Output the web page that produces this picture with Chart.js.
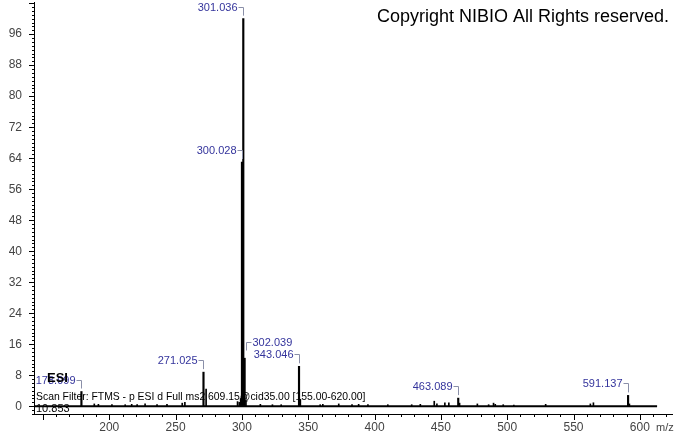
<!DOCTYPE html>
<html>
<head>
<meta charset="utf-8">
<script src="https://cdn.jsdelivr.net/npm/chart.js@4.4.0/dist/chart.umd.min.js"></script>
<style>
  html, body { margin: 0; padding: 0; background: #fff; }
  #wrap { width: 674px; height: 434px; }
</style>
</head>
<body>
<div id="wrap"><canvas id="spectrum" width="674" height="434"></canvas></div>
<script>
// labelled peaks (m/z, relative abundance)
const peakMz = [178.999, 271.025, 300.028, 301.036, 302.039, 343.046, 463.089, 591.137];
const peakInt = [3.8, 8.8, 63.0, 100, 12.4, 10.3, 2.1, 2.8];

// small unlabelled peaks
const minorMz = [188.7, 191.8, 202.0, 212.0, 216.9, 221.0, 227.0, 236.0, 243.5, 255.0, 257.0,
    273.0, 296.7, 298.0, 299.04, 303.04, 313.9, 323.0, 329.6, 344.05, 359.0, 361.0, 373.0,
    383.0, 388.0, 395.0, 410.0, 428.0, 434.5, 445.0, 447.0, 453.0, 456.0, 464.09, 477.5,
    486.0, 489.7, 491.0, 497.0, 505.0, 529.0, 562.7, 565.0, 592.14];
const minorInt = [0.6, 0.5, 0.4, 0.4, 0.5, 0.4, 0.6, 0.4, 0.5, 0.8, 1.0,
    4.4, 1.2, 1.0, 2.0, 1.5, 0.5, 0.4, 0.4, 1.8, 0.4, 0.5, 0.6,
    0.4, 0.5, 0.4, 0.4, 0.4, 0.5, 1.3, 0.6, 0.9, 0.9, 0.8, 0.6,
    0.4, 0.8, 0.5, 0.4, 0.3, 0.5, 0.6, 0.9, 0.6];

const baselineMz = [144, 613];
const yTickLabels = [0, 8, 16, 24, 32, 40, 48, 56, 64, 72, 80, 88, 96];
const xTickLabels = [200, 250, 300, 350, 400, 450, 500, 550, 600];

const labelBlue = '#34349c';
const bracketGrey = '#8a8fa8';

// axes, peak labels and header texts
const spectrumDecor = {
    id: 'spectrumDecor',
    afterDraw(chart) {
        const ctx = chart.ctx;
        const xs = chart.scales.x;
        const ys = chart.scales.y;
        const area = chart.chartArea;

        ctx.save();
        ctx.strokeStyle = '#000';
        ctx.lineWidth = 1;

        // y axis
        ctx.beginPath();
        ctx.moveTo(area.left - 0.5, area.top);
        ctx.lineTo(area.left - 0.5, area.bottom);
        for (let v = -2; v <= 104; v++) {
            const py = Math.round(ys.getPixelForValue(v)) + 0.5;
            const len = v % 8 === 0 ? 6 : 3;
            ctx.moveTo(area.left - len, py);
            ctx.lineTo(area.left, py);
        }
        ctx.stroke();

        // x axis
        ctx.beginPath();
        ctx.moveTo(area.left, area.bottom + 0.5);
        ctx.lineTo(area.right, area.bottom + 0.5);
        for (let v = 150; v <= 620; v += 10) {
            const px = Math.round(xs.getPixelForValue(v)) + 0.5;
            const len = v % 50 === 0 ? 6 : 3;
            ctx.moveTo(px, area.bottom);
            ctx.lineTo(px, area.bottom + len);
        }
        ctx.stroke();

        ctx.fillStyle = '#444';
        ctx.font = '12px "Liberation Sans", Arial, sans-serif';
        ctx.textAlign = 'right';
        ctx.textBaseline = 'middle';
        yTickLabels.forEach(v => {
            ctx.fillText(String(v), 22, ys.getPixelForValue(v));
        });
        ctx.textAlign = 'center';
        xTickLabels.forEach(v => {
            ctx.fillText(String(v), xs.getPixelForValue(v), 428);
        });
        ctx.textAlign = 'left';
        ctx.font = '11px "Liberation Sans", Arial, sans-serif';
        ctx.fillText('m/z', 656, 428);

        // peak labels with brackets
        ctx.font = '11px "Liberation Sans", Arial, sans-serif';
        peakMz.forEach((mz, i) => {
            const px = Math.round(xs.getPixelForValue(mz)) + 0.5;
            const top = ys.getPixelForValue(peakInt[i]);
            const text = mz.toFixed(3);
            // put label on the right when a taller peak sits just to the left
            const crowded = peakMz.some((m, j) => m < mz && mz - m < 3 && peakInt[j] > peakInt[i]);
            const cy = Math.round(top - (crowded ? 16 : 12)) + 0.5;
            ctx.strokeStyle = bracketGrey;
            ctx.beginPath();
            if (crowded) {
                ctx.moveTo(px + 6, cy);
                ctx.lineTo(px + 1, cy);
                ctx.lineTo(px + 1, cy + 8);
            } else {
                ctx.moveTo(px - 5, cy);
                ctx.lineTo(px, cy);
                ctx.lineTo(px, top - 3);
            }
            ctx.stroke();
            ctx.fillStyle = labelBlue;
            ctx.textAlign = crowded ? 'left' : 'right';
            ctx.fillText(text, crowded ? px + 7 : px - 6, cy);
        });

        // header / run info texts
        ctx.fillStyle = '#000';
        ctx.textAlign = 'left';
        ctx.textBaseline = 'alphabetic';
        ctx.font = '18px "Liberation Sans", Arial, sans-serif';
        ctx.fillText('Copyright NIBIO All Rights reserved.', 377, 22);
        ctx.font = 'bold 13px "Liberation Sans", Arial, sans-serif';
        ctx.fillText('ESI', 47, 382);
        ctx.font = '10.4px "Liberation Sans", Arial, sans-serif';
        ctx.fillText('Scan Filter: FTMS - p ESI d Full ms2 609.15@cid35.00 [155.00-620.00]', 36, 400);
        ctx.font = '11px "Liberation Sans", Arial, sans-serif';
        ctx.fillText('10.853', 36, 412);
        ctx.restore();
    }
};

const ctx = document.getElementById('spectrum').getContext('2d');
new Chart(ctx, {
    type: 'bar',
    data: {
        datasets: [{
            label: 'labelled',
            data: peakMz.map((mz, i) => ({ x: mz, y: peakInt[i] })),
            backgroundColor: '#000',
            borderWidth: 0,
            barThickness: 1.5,
            grouped: false
        }, {
            label: 'minor',
            data: minorMz.map((mz, i) => ({ x: mz, y: minorInt[i] })),
            backgroundColor: '#000',
            borderWidth: 0,
            barThickness: 1,
            grouped: false
        }, {
            type: 'line',
            label: 'baseline',
            data: baselineMz.map(mz => ({ x: mz, y: 0 })),
            borderColor: '#000',
            borderWidth: 2,
            pointRadius: 0
        }]
    },
    options: {
        responsive: false,
        devicePixelRatio: 1,
        animation: false,
        layout: { padding: { left: 35, right: 1, top: 2, bottom: 20 } },
        plugins: {
            legend: { display: false },
            tooltip: { enabled: false }
        },
        scales: {
            x: { type: 'linear', min: 144, max: 625, offset: false, display: false },
            y: { type: 'linear', min: -2, max: 104.3, display: false }
        }
    },
    plugins: [spectrumDecor]
});
</script>
</body>
</html>
